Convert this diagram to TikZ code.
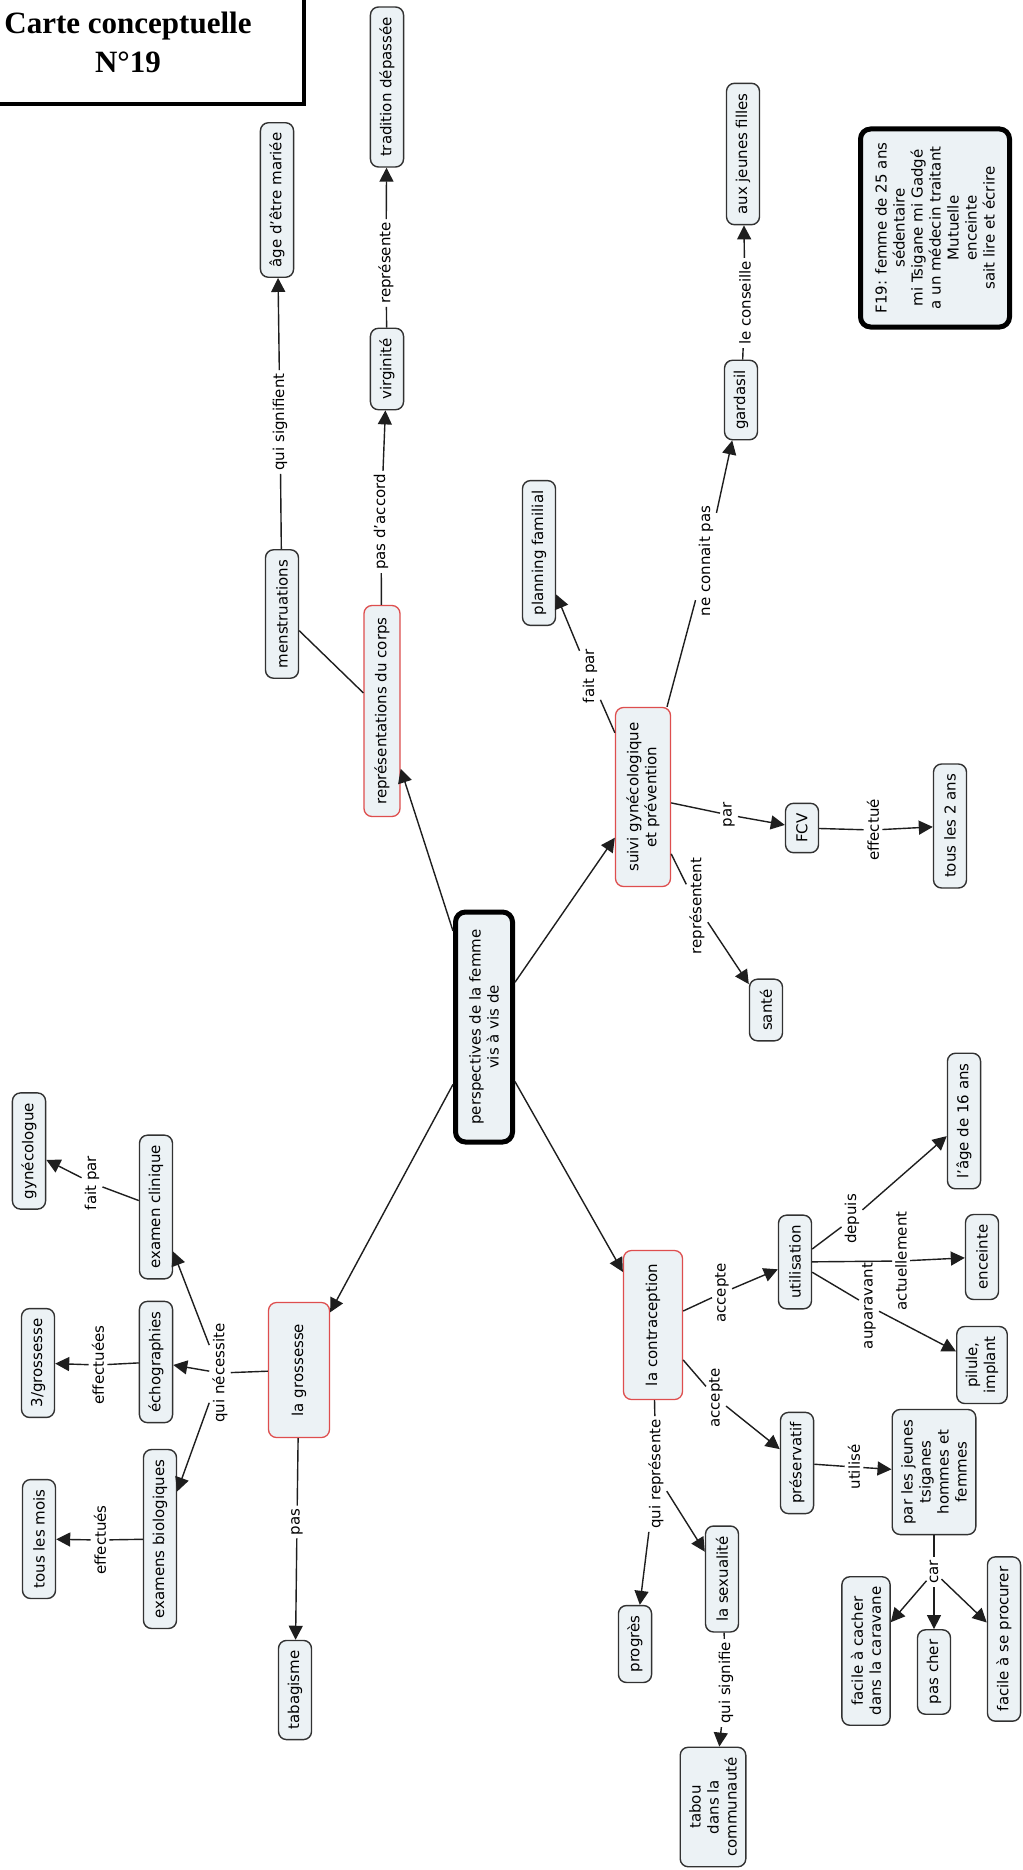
\documentclass[tikz,border=0pt]{standalone}
\usepackage{fontspec}
\setmainfont{DejaVu Sans}
\newfontfamily\titlefont{Liberation Serif}
\usetikzlibrary{arrows.meta}

\definecolor{boxfill}{RGB}{236,242,245}
\definecolor{boxline}{RGB}{50,50,50}
\definecolor{keyred}{RGB}{222,78,78}
\definecolor{linkline}{RGB}{30,30,30}

\tikzset{
  concept/.style={draw=boxline, fill=boxfill, line width=1.4pt, rounded corners=8pt,
    rotate=90, align=center, inner xsep=10pt, inner ysep=9pt, minimum height=33pt},
  keyconcept/.style={concept, draw=keyred, line width=1.3pt},
  rootconcept/.style={concept, draw=black, line width=5pt, rounded corners=10pt},
  phrase/.style={rotate=90, inner sep=3pt},
  link/.style={draw=linkline, line width=1.4pt},
  arrowlink/.style={link, -{Triangle[length=14pt,width=14pt]}},
  titletext/.style={font=\titlefont\bfseries\fontsize{31}{39}\selectfont, align=center, inner sep=0pt}
}

\begin{document}
\begin{tikzpicture}[x=1pt, y=-1pt, font=\fontsize{15}{18}\selectfont]

  \path[use as bounding box, fill=white] (0,0) rectangle (1022,1870);

  % Title:
  \draw[line width=4pt] (303.5,0) |- (0,104);
  \node[titletext] (title) at (128,42) {Carte conceptuelle\\N°19};

  % Nodes:
  \node[rootconcept, minimum width=230pt, minimum height=57pt] (root) at (484,1027) {perspectives de la femme\\vis à vis de};

  \node[keyconcept, minimum width=211pt, minimum height=36pt] (repr) at (382,711) {représentations du corps};
  \node[concept] (menstr) at (282,614) {menstruations};
  \node[concept] (mariee) at (277,200) {âge d'être mariée};
  \node[concept] (virg) at (387,369) {virginité};
  \node[concept] (tradi) at (387,87) {tradition dépassée};

  \node[keyconcept, minimum width=179pt, minimum height=55pt] (suivi) at (643,797) {suivi gynécologique\\et prévention};
  \node[concept] (planning) at (539,553) {planning familial};
  \node[concept] (gardasil) at (741,400) {gardasil};
  \node[concept] (filles) at (743,154) {aux jeunes filles};
  \node[concept] (fcv) at (802,828) {FCV};
  \node[concept] (deuxans) at (950,826) {tous les 2 ans};
  \node[concept] (sante) at (766,1010) {santé};
  \node[rootconcept, minimum width=198pt, minimum height=149pt] (f19) at (935,228)
    {F19: femme de 25 ans\\sédentaire\\mi Tsigane mi Gadgé\\a un médecin traitant\\Mutuelle\\enceinte\\sait lire et écrire};

  \node[keyconcept, minimum width=149pt, minimum height=59pt] (contra) at (653,1325) {la contraception};
  \node[concept] (utilis) at (795,1262) {utilisation};
  \node[concept] (seize) at (964,1121) {l'âge de 16 ans};
  \node[concept] (enceinte) at (982,1257) {enceinte};
  \node[concept] (pilule) at (982,1365) {pilule,\\implant};
  \node[concept] (preserv) at (797,1463) {préservatif};
  \node[concept] (jeunes) at (934,1472) {par les jeunes\\tsiganes\\hommes et\\femmes};
  \node[concept] (cacher) at (866,1651) {facile à cacher\\dans la caravane};
  \node[concept] (pascher) at (934,1672) {pas cher};
  \node[concept] (procurer) at (1004,1639) {facile à se procurer};
  \node[concept] (sexu) at (722,1579) {la sexualité};
  \node[concept] (progres) at (635,1644) {progrès};
  \node[concept] (tabou) at (713,1807) {tabou\\dans la\\communauté};

  \node[keyconcept, minimum width=135pt, minimum height=61pt] (gross) at (299,1370) {la grossesse};
  \node[concept] (tabac) at (295,1690) {tabagisme};
  \node[concept] (clinique) at (156,1207) {examen clinique};
  \node[concept] (echo) at (156,1362) {échographies};
  \node[concept] (biolo) at (160,1539) {examens biologiques};
  \node[concept] (gyneco) at (29,1151) {gynécologue};
  \node[concept] (trois) at (38,1363) {3/grossesse};
  \node[concept] (mois) at (39,1539) {tous les mois};

  % Linking phrases:
  \node[phrase] (lsignifient) at (280,422) {qui signifient};
  \node[phrase] (laccord) at (381,522) {pas d'accord};
  \node[phrase] (lrepresente) at (386,263) {représente};
  \node[phrase] (lfaitpar) at (590,676) {fait par};
  \node[phrase] (lconnait) at (706,561) {ne connait pas};
  \node[phrase] (lconseille) at (745,303) {le conseille};
  \node[phrase] (lpar) at (729,815) {par};
  \node[phrase] (leffectue) at (873,830) {effectué};
  \node[phrase] (lrepresentent) at (697,906) {représentent};
  \node[phrase] (lacceptea) at (722,1293) {accepte};
  \node[phrase] (ldepuis) at (852,1219) {depuis};
  \node[phrase] (lactuel) at (901,1261) {actuellement};
  \node[phrase] (lauparav) at (869,1306) {auparavant};
  \node[phrase] (lacceptep) at (716,1398) {accepte};
  \node[phrase] (lutilise) at (854,1467) {utilisé};
  \node[phrase] (lcar) at (934,1572) {car};
  \node[phrase] (lquirep) at (656,1474) {qui représente};
  \node[phrase] (lquisig) at (726,1683) {qui signifie};
  \node[phrase] (lnecessite) at (220,1373) {qui nécessite};
  \node[phrase] (lfaitpar2) at (92,1183) {fait par};
  \node[phrase] (leffectuees) at (98,1365) {effectuées};
  \node[phrase] (leffectues) at (100,1540) {effectués};
  \node[phrase] (lpas) at (297,1522) {pas};

  % Connections:
  \draw[arrowlink] (root) -- (repr);
  \draw[link] (menstr) -- (repr);
  \draw[link] (menstr) -- (lsignifient);
  \draw[arrowlink] (lsignifient) -- (mariee);
  \draw[link] (repr) -- (laccord);
  \draw[arrowlink] (laccord) -- (virg);
  \draw[link] (virg) -- (lrepresente);
  \draw[arrowlink] (lrepresente) -- (tradi);

  \draw[arrowlink] (root) -- (suivi);
  \draw[link] (suivi) -- (lfaitpar);
  \draw[arrowlink] (lfaitpar) -- (planning);
  \draw[link] (suivi) -- (lconnait);
  \draw[arrowlink] (lconnait) -- (gardasil);
  \draw[link] (gardasil) -- (lconseille);
  \draw[arrowlink] (lconseille) -- (filles);
  \draw[link] (suivi) -- (lpar);
  \draw[arrowlink] (lpar) -- (fcv);
  \draw[link] (fcv) -- (leffectue);
  \draw[arrowlink] (leffectue) -- (deuxans);
  \draw[link] (suivi) -- (lrepresentent);
  \draw[arrowlink] (lrepresentent) -- (sante);

  \draw[arrowlink] (root) -- (contra);
  \draw[link] (contra) -- (lacceptea);
  \draw[arrowlink] (lacceptea) -- (utilis);
  \draw[link] (utilis) -- (ldepuis);
  \draw[arrowlink] (ldepuis) -- (seize);
  \draw[link] (utilis) -- (lactuel);
  \draw[arrowlink] (lactuel) -- (enceinte);
  \draw[link] (utilis) -- (lauparav);
  \draw[arrowlink] (lauparav) -- (pilule);
  \draw[link] (contra) -- (lacceptep);
  \draw[arrowlink] (lacceptep) -- (preserv);
  \draw[link] (preserv) -- (lutilise);
  \draw[arrowlink] (lutilise) -- (jeunes);
  \draw[link] (jeunes) -- (lcar);
  \draw[arrowlink] (lcar) -- (cacher);
  \draw[arrowlink] (lcar) -- (pascher);
  \draw[arrowlink] (lcar) -- (procurer);
  \draw[link] (contra) -- (lquirep);
  \draw[arrowlink] (lquirep) -- (progres);
  \draw[arrowlink] (lquirep) -- (sexu);
  \draw[link] (sexu) -- (lquisig);
  \draw[arrowlink] (lquisig) -- (tabou);

  \draw[arrowlink] (root) -- (gross);
  \draw[link] (gross) -- (lnecessite);
  \draw[arrowlink] (lnecessite) -- (clinique);
  \draw[arrowlink] (lnecessite) -- (echo);
  \draw[arrowlink] (lnecessite) -- (biolo);
  \draw[link] (clinique) -- (lfaitpar2);
  \draw[arrowlink] (lfaitpar2) -- (gyneco);
  \draw[link] (echo) -- (leffectuees);
  \draw[arrowlink] (leffectuees) -- (trois);
  \draw[link] (biolo) -- (leffectues);
  \draw[arrowlink] (leffectues) -- (mois);
  \draw[link] (gross) -- (lpas);
  \draw[arrowlink] (lpas) -- (tabac);

\end{tikzpicture}
\end{document}
